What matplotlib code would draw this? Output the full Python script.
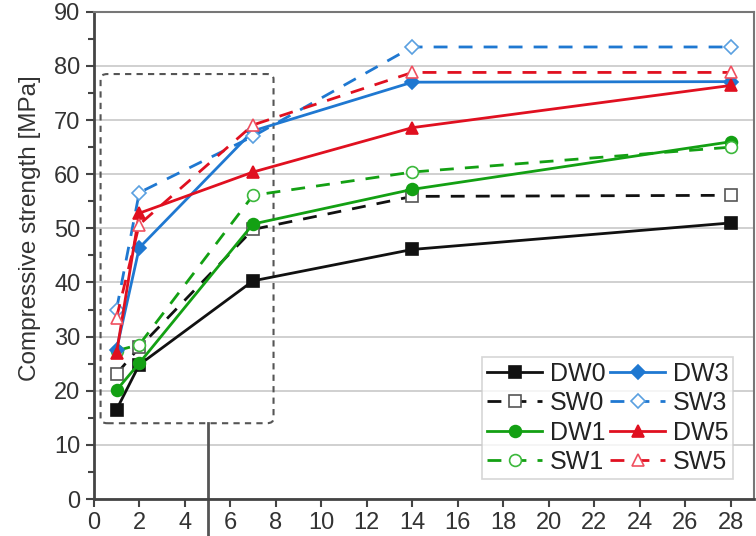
import matplotlib.pyplot as plt
from matplotlib.patches import FancyBboxPatch
from matplotlib.ticker import MultipleLocator

plt.rcParams['font.family'] = ['Liberation Sans', 'DejaVu Sans']

# возраст образцов, сутки
days = [1, 2, 7, 14, 28]

# прочность на сжатие, МПа
dw0 = [16.5, 24.8, 40.3, 46.1, 51.0]
sw0 = [23.1, 28.0, 49.8, 55.9, 56.1]
dw1 = [20.1, 25.1, 50.8, 57.2, 66.0]
sw1 = [27.4, 28.5, 56.1, 60.4, 65.0]
dw3 = [27.6, 46.4, 68.0, 77.0, 77.1]
sw3 = [35.0, 56.6, 67.0, 83.5, 83.5]
dw5 = [26.9, 52.8, 60.4, 68.6, 76.4]
sw5 = [33.5, 50.7, 69.1, 78.8, 78.8]

black = "#111111"
green = "#13a013"
blue = "#1f78d1"
red = "#e01020"

fig = plt.figure(figsize=(7.56, 5.36), dpi=100)
ax = fig.add_axes([0.124, 0.069, 0.873, 0.909])

ms = 8.5
# (подпись, данные, цвет линии, маркер, заливка, цвет кромки, сплошная?)
series = [
    ("DW0", dw0, black, "s", black, black, True),
    ("SW0", sw0, black, "s", "white", "#555555", False),
    ("DW1", dw1, green, "o", green, green, True),
    ("SW1", sw1, green, "o", "white", "#3cb83c", False),
    ("DW3", dw3, blue, "D", blue, blue, True),
    ("SW3", sw3, blue, "D", "white", "#5aa0e0", False),
    ("DW5", dw5, red, "^", red, red, True),
    ("SW5", sw5, red, "^", "white", "#f05060", False),
]

handles = {}
for name, vals, col, mk, fc, ec, solid in series:
    size = ms - 1 if mk == "D" else ms
    h, = ax.plot(days, vals, color=col, lw=2,
                 ls="-" if solid else (0, (5, 4)),
                 marker=mk, ms=size, mfc=fc, mec=ec, mew=1.2,
                 label=name, zorder=3)
    handles[name] = h

ax.set_xlim(0, 29)
ax.set_ylim(0, 90)
ax.xaxis.set_major_locator(MultipleLocator(2))
ax.yaxis.set_major_locator(MultipleLocator(10))
ax.yaxis.set_minor_locator(MultipleLocator(5))
ax.tick_params(axis="both", which="major", labelsize=17, length=6,
               width=1.5, color="#444444", labelcolor="#333333")
ax.tick_params(axis="y", which="minor", length=4, width=1.5,
               color="#444444")
ax.set_ylabel("Compressive strength [MPa]", fontsize=17.5, color="#333333")
ax.yaxis.set_label_coords(-0.08, 0.556)
ax.grid(True, axis="y", color="#c8c8c8", lw=1.2, zorder=0)
ax.set_axisbelow(True)
for side in ["left", "bottom"]:
    ax.spines[side].set_linewidth(2)
    ax.spines[side].set_color("#444444")
for side in ["top", "right"]:
    ax.spines[side].set_linewidth(1.5)
    ax.spines[side].set_color("#777777")

# пунктирная рамка вокруг ранних сроков и выноска
box = FancyBboxPatch((0.3, 14), 7.6, 64.5,
                     boxstyle="round,pad=0,rounding_size=0.3",
                     fill=False, ls=(0, (3, 2.5)), lw=1.5,
                     ec="#555555", zorder=2, mutation_aspect=3)
ax.add_patch(box)
ax.plot([5, 5], [14, -8], color="#555555", lw=2, clip_on=False, zorder=2)

order = ["DW0", "SW0", "DW1", "SW1", "DW3", "SW3", "DW5", "SW5"]
leg = ax.legend([handles[n] for n in order], order, loc="lower right",
                ncol=2, fontsize=18, frameon=True, fancybox=False,
                edgecolor="#cccccc", borderpad=0.2, labelspacing=0.22,
                handlelength=2.2, handletextpad=0.3, columnspacing=0.2,
                bbox_to_anchor=(0.988, 0.015))
leg.get_frame().set_linewidth(1.2)
for t in leg.get_texts():
    t.set_color("#222222")

fig.savefig("out.png", dpi=100)
